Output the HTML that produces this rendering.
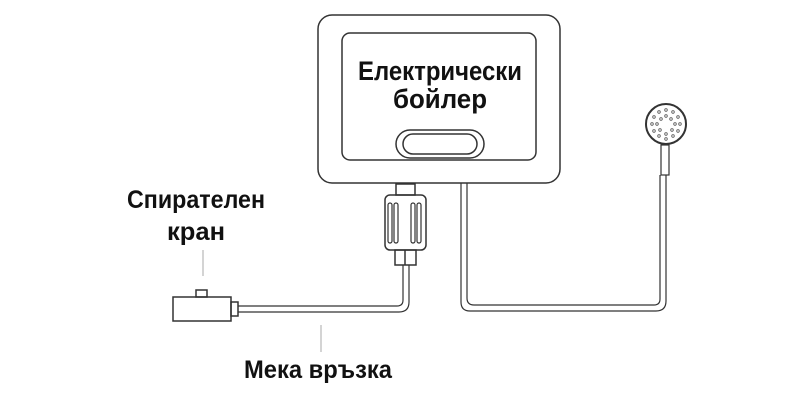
<!DOCTYPE html>
<html><head><meta charset="utf-8"><style>
body{margin:0;background:#fff;width:800px;height:400px;overflow:hidden}
text{font-family:"Liberation Sans",sans-serif;font-weight:bold;fill:#111}
</style></head><body>
<svg width="800" height="400" viewBox="0 0 800 400" fill="none" stroke="#333" stroke-width="1.5">
<rect x="318" y="15" width="242" height="168" rx="14"/>
<rect x="342" y="33" width="194" height="127" rx="8"/>
<rect x="396" y="130" width="88" height="28" rx="14"/>
<rect x="403" y="134" width="74" height="20" rx="10"/>
<text x="440" y="80" font-size="27" text-anchor="middle" stroke="none" textLength="164" lengthAdjust="spacingAndGlyphs">Електрически</text>
<text x="440" y="108" font-size="27" text-anchor="middle" stroke="none" textLength="94" lengthAdjust="spacingAndGlyphs">бойлер</text>
<!-- connector -->
<rect x="396" y="184" width="19" height="11"/>
<rect x="385" y="195" width="41" height="55" rx="5"/>
<g stroke-width="1.2">
<rect x="388" y="203" width="4" height="40" rx="2"/><rect x="394" y="203" width="4" height="40" rx="2"/>
<rect x="411" y="203" width="4" height="40" rx="2"/><rect x="417" y="203" width="4" height="40" rx="2"/>
</g>
<rect x="395" y="250" width="21" height="15"/>
<line x1="405" y1="250" x2="405" y2="265"/>
<!-- left hose -->
<path d="M403 265 V300 Q403 306 397 306 H238" stroke-width="1.2"/>
<path d="M409 265 V302 Q409 312 399 312 H238" stroke-width="1.2"/>
<!-- valve -->
<rect x="173" y="297" width="58" height="24"/>
<rect x="196" y="290" width="11" height="7"/>
<rect x="231" y="302" width="7" height="14"/>
<line x1="203" y1="250" x2="203" y2="276" stroke="#aaa" stroke-width="1"/>
<line x1="321" y1="325" x2="321" y2="352" stroke="#aaa" stroke-width="1"/>
<!-- right hose -->
<path d="M461 183 V302 Q461 311 470 311 H656 Q666 311 666 301 V175" stroke-width="1.2"/>
<path d="M467 183 V298 Q467 305 474 305 H654 Q660 305 660 299 V175" stroke-width="1.2"/>
<rect x="661" y="145" width="8" height="30" stroke-width="1.2"/>
<circle cx="666" cy="124" r="20" stroke-width="2"/>
<g fill="none" stroke="#555" stroke-width="0.8">
<circle cx="666" cy="110" r="1.3"/><circle cx="659" cy="112" r="1.3"/><circle cx="673" cy="112" r="1.3"/>
<circle cx="654" cy="117" r="1.3"/><circle cx="678" cy="117" r="1.3"/><circle cx="666" cy="116" r="1.3"/>
<circle cx="652" cy="124" r="1.3"/><circle cx="657" cy="124" r="1.3"/><circle cx="675" cy="124" r="1.3"/><circle cx="680" cy="124" r="1.3"/>
<circle cx="654" cy="131" r="1.3"/><circle cx="678" cy="131" r="1.3"/><circle cx="660" cy="130" r="1.3"/><circle cx="672" cy="130" r="1.3"/>
<circle cx="659" cy="136" r="1.3"/><circle cx="666" cy="134" r="1.3"/><circle cx="673" cy="136" r="1.3"/><circle cx="666" cy="139" r="1.3"/>
<circle cx="661" cy="119" r="1.3"/><circle cx="671" cy="119" r="1.3"/>
</g>
<text x="196" y="208" font-size="25" text-anchor="middle" stroke="none" textLength="138" lengthAdjust="spacingAndGlyphs">Спирателен</text>
<text x="196" y="240" font-size="25" text-anchor="middle" stroke="none" textLength="58" lengthAdjust="spacingAndGlyphs">кран</text>
<text x="318" y="378" font-size="25" text-anchor="middle" stroke="none" textLength="148" lengthAdjust="spacingAndGlyphs">Мека връзка</text>
</svg>
</body></html>
